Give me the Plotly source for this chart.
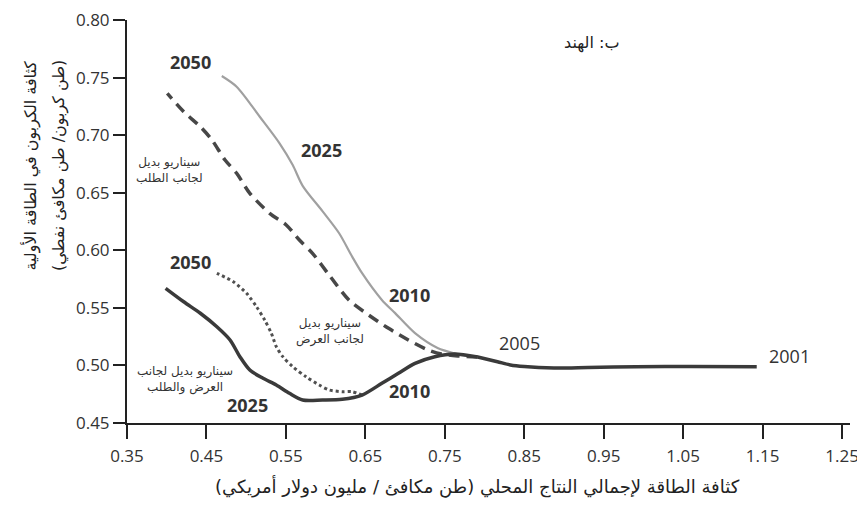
import plotly.graph_objects as go

# Historical path (2001 -> 2005), read right to left
hist_x = [1.1426, 1.0600, 0.9909, 0.9300, 0.8874, 0.8500, 0.8325, 0.8163, 0.7914]
hist_y = [0.4989, 0.4990, 0.4989, 0.4982, 0.4978, 0.4990, 0.5004, 0.5032, 0.5073]

# Reference projection (2005 -> 2050), light gray
base_x = [0.7914, 0.7830, 0.7623, 0.7415, 0.7125, 0.6875, 0.6708, 0.6459, 0.6334, 0.6170,
          0.5960, 0.5711, 0.5586, 0.5420, 0.5171, 0.4880, 0.4693]
base_y = [0.5073, 0.5076, 0.5105, 0.5149, 0.5280, 0.5454, 0.5569, 0.5801, 0.5945, 0.6148,
          0.6340, 0.6560, 0.6740, 0.6929, 0.7160, 0.7421, 0.7514]

# Demand-side alternative scenario, dashed
dem_x = [0.7914, 0.7665, 0.7456, 0.7291, 0.7041, 0.6792, 0.6542, 0.6293, 0.6044, 0.5835,
         0.5670, 0.5504, 0.5296, 0.5046, 0.4880, 0.4734, 0.4569, 0.4423, 0.4214, 0.4007]
dem_y = [0.5073, 0.5082, 0.5099, 0.5134, 0.5221, 0.5322, 0.5438, 0.5568, 0.5785, 0.5974,
         0.6089, 0.6220, 0.6321, 0.6495, 0.6669, 0.6784, 0.6958, 0.7073, 0.7204, 0.7363]

# Combined supply & demand scenario, solid dark
comb_x = [0.7914, 0.7623, 0.7374, 0.7125, 0.6916, 0.6708, 0.6459, 0.6209, 0.5960, 0.5711,
          0.5545, 0.5379, 0.5212, 0.5046, 0.4921, 0.4797, 0.4631, 0.4423, 0.4214, 0.3986]
comb_y = [0.5073, 0.5099, 0.5076, 0.5018, 0.4932, 0.4845, 0.4743, 0.4706, 0.4700, 0.4700,
          0.4758, 0.4830, 0.4888, 0.4960, 0.5076, 0.5221, 0.5336, 0.5453, 0.5553, 0.5670]

# Supply-side alternative scenario, dotted (from 2010 onward)
sup_x = [0.6459, 0.6334, 0.6209, 0.6044, 0.5919, 0.5753, 0.5586, 0.5461, 0.5379, 0.5317,
         0.5233, 0.5130, 0.5005, 0.4838, 0.4631]
sup_y = [0.4743, 0.4772, 0.4772, 0.4787, 0.4830, 0.4902, 0.4989, 0.5076, 0.5163, 0.5279,
         0.5394, 0.5510, 0.5626, 0.5727, 0.5800]

x_ticks = [0.35, 0.45, 0.55, 0.65, 0.75, 0.85, 0.95, 1.05, 1.15, 1.25]
y_ticks = [0.45, 0.50, 0.55, 0.60, 0.65, 0.70, 0.75, 0.80]

year_labels = ["2050", "2025", "2010", "2005", "2001", "2050", "2010", "2025"]
year_x = [0.4298, 0.5944, 0.7054, 0.8438, 1.1840, 0.4298, 0.7054, 0.5021]
year_y = [0.7635, 0.6871, 0.5612, 0.5195, 0.5082, 0.5898, 0.4778, 0.4656]

scen_labels = ["سيناريو بديل<br>لجانب الطلب", "سيناريو بديل<br>لجانب العرض",
               "سيناريو بديل لجانب<br>العرض والطلب"]
scen_x = [0.4037, 0.6056, 0.4224]
scen_y = [0.6697, 0.5299, 0.4882]

title_text = "ب: الهند"
x_title = "كثافة الطاقة لإجمالي النتاج المحلي (طن مكافئ / مليون دولار أمريكي)"
y_title_1 = "كثافة الكربون في الطاقة الأولية"
y_title_2 = "(طن كربون/ طن مكافئ نفطي)"

ar_font = "DejaVu Sans, Noto Sans"
dark = "#3a3a3a"
fig = go.Figure()
fig.add_trace(go.Scatter(x=base_x, y=base_y, mode="lines",
                         line=dict(color="#a0a0a0", width=2.2, shape="spline", smoothing=0.8)))
fig.add_trace(go.Scatter(x=dem_x, y=dem_y, mode="lines",
                         line=dict(color="#474747", width=3.5, dash="11px,7px", shape="spline", smoothing=0.8)))
fig.add_trace(go.Scatter(x=sup_x, y=sup_y, mode="lines",
                         line=dict(color="#505050", width=3, dash="dot", shape="spline", smoothing=0.8)))
fig.add_trace(go.Scatter(x=comb_x, y=comb_y, mode="lines",
                         line=dict(color=dark, width=3.5, shape="spline", smoothing=0.8)))
fig.add_trace(go.Scatter(x=hist_x, y=hist_y, mode="lines",
                         line=dict(color=dark, width=3.5, shape="spline", smoothing=0.8)))

ann = []
for t, x, y in zip(year_labels, year_x, year_y):
    bold = t not in ("2001", "2005")
    ann.append(dict(x=x, y=y, text=(f"<b>{t}</b>" if bold else t), showarrow=False,
                    font=dict(family="Open Sans, Arial", size=18, color="#333333")))
for t, x, y in zip(scen_labels, scen_x, scen_y):
    ann.append(dict(x=x, y=y, text=t, showarrow=False,
                    font=dict(family=ar_font, size=12, color="#333333")))
ann.append(dict(x=0.9348, y=0.780, text=title_text, showarrow=False,
                font=dict(family=ar_font, size=16, color="#222222")))
ann.append(dict(xref="paper", yref="paper", x=-0.1508, y=0.64, text=y_title_1, textangle=-90,
                showarrow=False, font=dict(family=ar_font, size=16, color="#222222")))
ann.append(dict(xref="paper", yref="paper", x=-0.1107, y=0.64, text=y_title_2, textangle=-90,
                showarrow=False, font=dict(family=ar_font, size=16, color="#222222")))
ann.append(dict(xref="paper", yref="paper", x=0.485, y=-0.191, text=x_title,
                showarrow=False, font=dict(family=ar_font, size=18, color="#222222")))

# page has an 8px body margin, so the figure is sized to fit the 865x508 window
fig.update_layout(
    width=857, height=500,
    margin=dict(l=119, r=15, t=12, b=85),
    paper_bgcolor="white", plot_bgcolor="white",
    showlegend=False,
    annotations=ann,
)
fig.update_xaxes(range=[0.35, 1.26], tickvals=x_ticks, ticktext=[f"{v:.2f}" for v in x_ticks],
                 showgrid=False, zeroline=False, showline=True, linecolor="#222", linewidth=2,
                 ticks="outside", ticklen=14, tickwidth=1.5, tickcolor="#222", automargin=False,
                 ticklabelstandoff=3, ticklabeloverflow="allow",
                 tickfont=dict(family="Open Sans, Arial", size=17, color="#333"))
fig.update_yaxes(range=[0.45, 0.80], tickvals=y_ticks, ticktext=[f"{v:.2f}" for v in y_ticks],
                 showgrid=False, zeroline=False, showline=True, linecolor="#222", linewidth=2,
                 ticks="outside", ticklen=12, tickwidth=1.5, tickcolor="#222", automargin=False,
                 ticklabeloverflow="allow",
                 tickfont=dict(family="Open Sans, Arial", size=17, color="#333"))

fig.write_html("out.html")
